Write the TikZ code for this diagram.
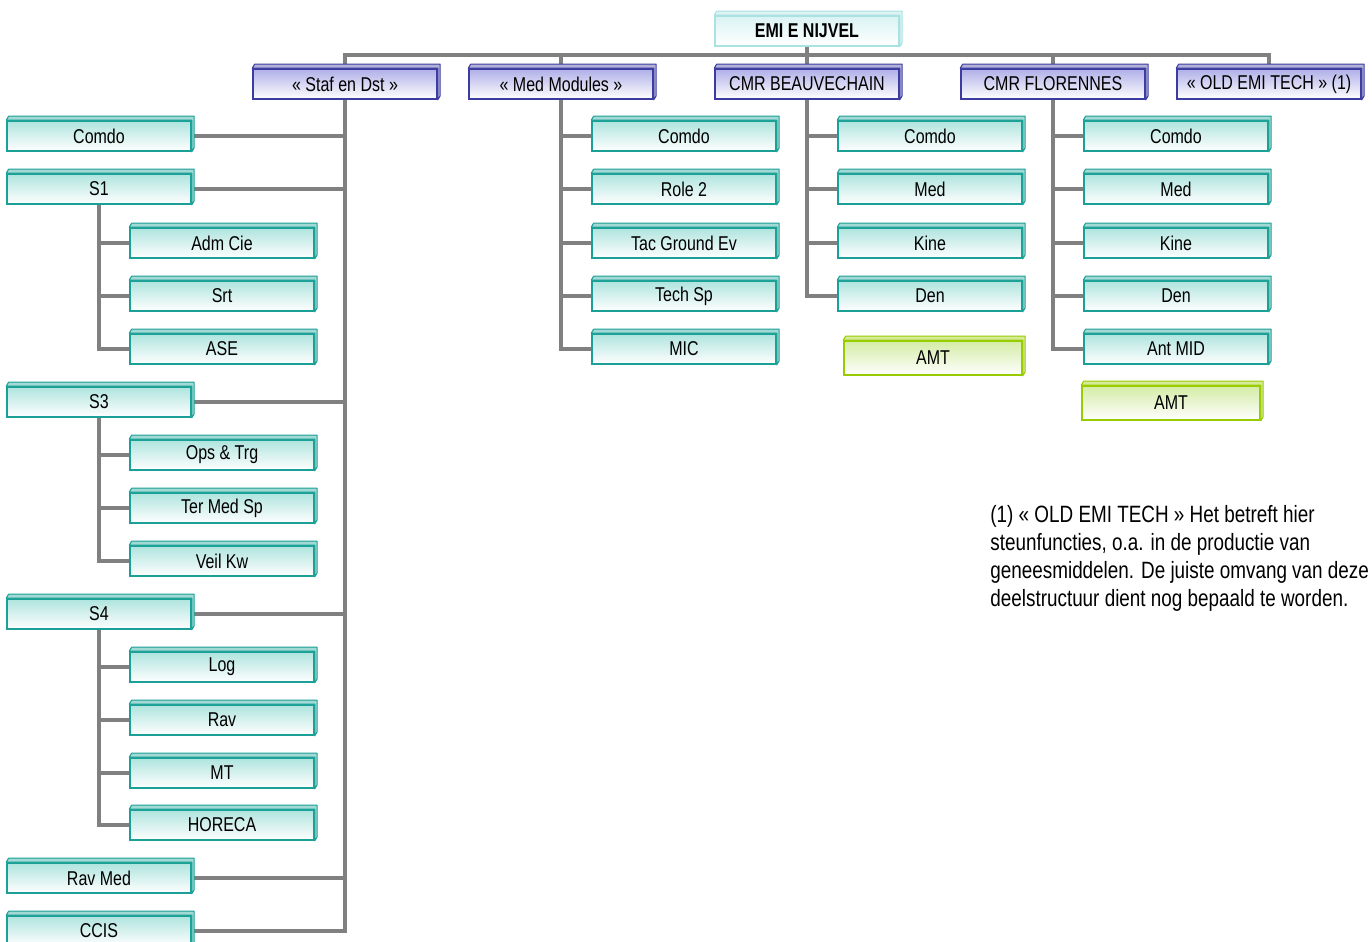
\documentclass[tikz,border=0pt]{standalone}
\usepackage{fontspec}
\setmainfont{Liberation Sans}[FakeStretch=0.8]
\usetikzlibrary{backgrounds}

\definecolor{linegray}{RGB}{128,128,128}
\definecolor{tealline}{RGB}{26,160,150}
\definecolor{tealtop}{RGB}{175,228,222}
\definecolor{purpline}{RGB}{60,60,160}
\definecolor{purptop}{RGB}{175,175,232}
\definecolor{greenline}{RGB}{153,204,0}
\definecolor{greentop}{RGB}{212,236,165}
\definecolor{headline}{RGB}{170,225,225}
\definecolor{headtop}{RGB}{218,243,243}

\begin{document}
\begin{tikzpicture}[x=0.5pt,y=-0.5pt,
    link/.style={draw=linegray,line width=2pt},
    box/.style={line width=0.8pt,minimum width=92pt,minimum height=15pt,inner sep=0pt,
                font=\fontsize{10}{12}\selectfont},
    unit/.style={box,draw=tealline,top color=tealtop,bottom color=white},
    dept/.style={box,draw=purpline,top color=purptop,bottom color=white},
    head/.style={box,draw=headline,top color=headtop,bottom color=white},
    amt/.style={box,minimum width=89pt,minimum height=17pt,draw=greenline,top color=greentop,bottom color=white},
    bevel/.style={draw=#1,fill=#1!40,line width=0.5pt,line join=round},
    note/.style={align=left,inner sep=0pt,font=\fontsize{11.8}{14}\selectfont}
  ]
  \useasboundingbox (0,0) rectangle (1372,942);

  % top and first level
  \node[head] (emi) at (807,31) {\bfseries EMI E NIJVEL};
  \node[dept] (staf) at (345,84) {« Staf en Dst »};
  \node[dept] (medmod) at (561,84) {« Med Modules »};
  \node[dept] (beau) at (807,84) {CMR BEAUVECHAIN};
  \node[dept] (flor) at (1053,84) {CMR FLORENNES};
  \node[dept] (oldemi) at (1269,84) {« OLD EMI TECH » (1)};

  % Staf en Dst
  \foreach \name/\y/\txt in {comdo/136/Comdo, s1/189/S1, s3/402/S3, s4/614/S4, ravmed/878/Rav Med, ccis/931/CCIS}
    \node[unit] (\name) at (99,\y) {\txt};
  \foreach \name/\y/\txt in {admcie/243/Adm Cie, srt/296/Srt, ase/349/ASE,
                             opstrg/455/Ops \& Trg, termed/508/Ter Med Sp, veilkw/561/Veil Kw,
                             log/667/Log, rav/720/Rav, mt/773/MT, horeca/825/HORECA}
    \node[unit] (\name) at (222,\y) {\txt};

  % Med Modules
  \foreach \name/\y/\txt in {mcomdo/136/Comdo, role/189/Role 2, tac/243/Tac Ground Ev, tech/296/Tech Sp, mic/349/MIC}
    \node[unit] (\name) at (684,\y) {\txt};

  % CMR Beauvechain
  \foreach \name/\y/\txt in {bcomdo/136/Comdo, bmed/189/Med, bkine/243/Kine, bden/296/Den}
    \node[unit] (\name) at (930,\y) {\txt};
  \node[amt] (bamt) at (933,358) {AMT};

  % CMR Florennes
  \foreach \name/\y/\txt in {fcomdo/136/Comdo, fmed/189/Med, fkine/243/Kine, fden/296/Den, fant/349/Ant MID}
    \node[unit] (\name) at (1176,\y) {\txt};
  \node[amt] (famt) at (1171,403) {AMT};

  % 3D edges of the boxes
  \foreach \n/\c in {emi/headline, staf/purpline, medmod/purpline, beau/purpline, flor/purpline, oldemi/purpline,
                     bamt/greenline, famt/greenline,
                     comdo/tealline, s1/tealline, s3/tealline, s4/tealline, ravmed/tealline, ccis/tealline,
                     admcie/tealline, srt/tealline, ase/tealline, opstrg/tealline, termed/tealline, veilkw/tealline,
                     log/tealline, rav/tealline, mt/tealline, horeca/tealline,
                     mcomdo/tealline, role/tealline, tac/tealline, tech/tealline, mic/tealline,
                     bcomdo/tealline, bmed/tealline, bkine/tealline, bden/tealline,
                     fcomdo/tealline, fmed/tealline, fkine/tealline, fden/tealline, fant/tealline}
    \draw[bevel=\c] (\n.north west) -- ++(1.2pt,2pt) -| ([shift={(1.2pt,2pt)}]\n.south east)
                    -- (\n.south east) -- (\n.north east) -- cycle;

  \node[note,anchor=north west] (fnote) at (990,505)
    {(1) « OLD EMI TECH » Het betreft hier\\
     steunfuncties, o.a. in de productie van\\
     geneesmiddelen. De juiste omvang van deze\\
     deelstructuur dient nog bepaald te worden.};

  \begin{scope}[on background layer]
    \coordinate (bus) at (0,55);
    \draw[link] (staf.north) -- (staf.north |- bus) -- (oldemi.north |- bus) -- (oldemi.north);
    \foreach \n in {emi.south,medmod.north,beau.north,flor.north}
      \draw[link] (\n) -- (\n |- bus);
    \foreach \n in {comdo,s1,s3,s4,ravmed,ccis}
      \draw[link] (staf.south) |- (\n.east);
    \foreach \n in {admcie,srt,ase}
      \draw[link] (s1.south) |- (\n.west);
    \foreach \n in {opstrg,termed,veilkw}
      \draw[link] (s3.south) |- (\n.west);
    \foreach \n in {log,rav,mt,horeca}
      \draw[link] (s4.south) |- (\n.west);
    \foreach \n in {mcomdo,role,tac,tech,mic}
      \draw[link] (medmod.south) |- (\n.west);
    \foreach \n in {bcomdo,bmed,bkine,bden}
      \draw[link] (beau.south) |- (\n.west);
    \foreach \n in {fcomdo,fmed,fkine,fden,fant}
      \draw[link] (flor.south) |- (\n.west);
  \end{scope}
\end{tikzpicture}
\end{document}
